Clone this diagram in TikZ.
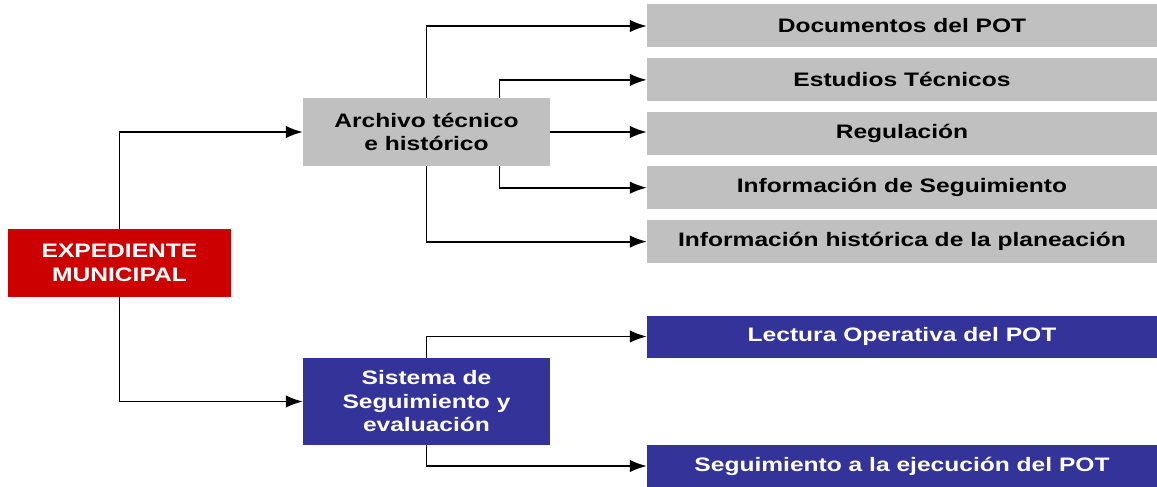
\documentclass[tikz,border=0pt]{standalone}
\usepackage{fontspec}
\setmainfont{Liberation Sans}[FakeStretch=1.26]
\usetikzlibrary{positioning,arrows.meta}
\definecolor{boxgray}{RGB}{192,192,192}
\definecolor{boxblue}{RGB}{51,51,153}
\definecolor{boxred}{RGB}{204,0,0}
\tikzstyle{block}=[rectangle,inner sep=0pt,align=center,
font=\bfseries\fontsize{19.5}{23.5}\selectfont]
\tikzstyle{mainbox}=[block,fill=boxred,text=white,minimum width=223pt,minimum height=68pt]
\tikzstyle{graymid}=[block,fill=boxgray,text=black,minimum width=247pt,minimum height=68pt]
\tikzstyle{bluemid}=[block,fill=boxblue,text=white,minimum width=247pt,minimum height=87pt]
\tikzstyle{grayout}=[block,fill=boxgray,text=black,minimum width=510pt,minimum height=43pt]
\tikzstyle{blueout}=[block,fill=boxblue,text=white,minimum width=510pt,minimum height=42pt]
\tikzstyle{link}=[line width=1.8pt,-{Latex[length=17pt,width=12.5pt]}]

\begin{document}
\begin{tikzpicture}[x=1pt,y=-1pt,node distance=10.5pt]
            \useasboundingbox (0,0) rectangle (1157,487);

            % main node

            \node[mainbox] (exp) at (119.5,263) {EXPEDIENTE\\MUNICIPAL};

            % technical archive PART

            \node[graymid] (arch) at (426.5,132) {Archivo técnico\\e histórico};
            \node[grayout] (docs) at (902,26) {Documentos del POT};
            \node[grayout,below=of docs] (estu) {Estudios Técnicos};
            \node[grayout,below=of estu] (regu) {Regulación};
            \node[grayout,below=of regu] (info) {Información de Seguimiento};
            \node[grayout,below=of info] (hist) {Información histórica de la planeación};

            \draw[link] (arch.north) |- (docs.west);
            \draw[link] ([xshift=73pt]arch.north) |- (estu.west);
            \draw[link] (arch.east) -- (arch.east -| regu.west);
            \draw[link] ([xshift=73pt]arch.south) |- (info.west);
            \draw[link] (arch.south) |- (hist.west);

            % follow-up system PART

            \node[bluemid] (sist) at (426.5,401.5) {Sistema de\\Seguimiento y\\evaluación};
            \node[blueout] (lect) at (902,336.5) {Lectura Operativa del POT};
            \node[blueout] (ejec) at (902,466) {Seguimiento a la ejecución del POT};

            \draw[link] (sist.north) |- (lect.west);
            \draw[link] (sist.south) |- (ejec.west);

            % Connections of main node

            \draw[link] (exp.north) |- (arch.west);
            \draw[link] (exp.south) |- (sist.west);

\end{tikzpicture}
\end{document}
